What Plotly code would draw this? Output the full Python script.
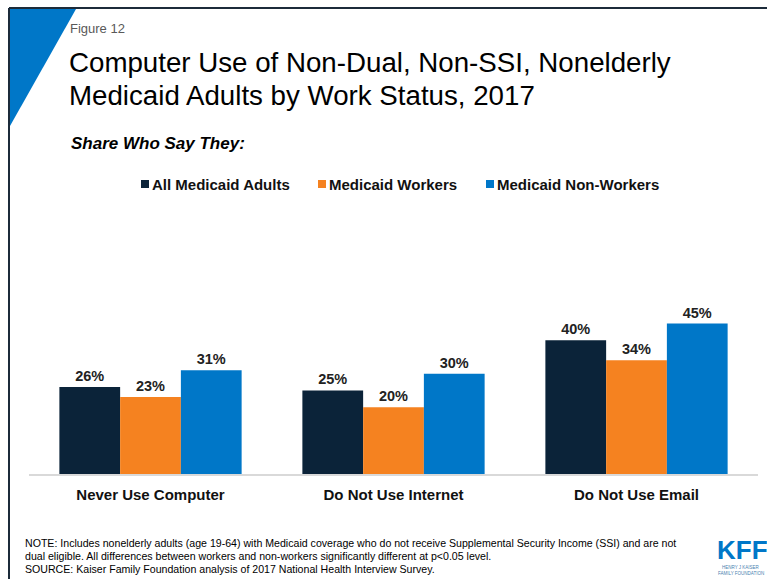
import plotly.graph_objects as go

# Survey data: share of nonelderly Medicaid adults by computer/internet use
categories = ["Never Use Computer", "Do Not Use Internet", "Do Not Use Email"]
all_adults = [26, 25, 40]
workers = [23, 20, 34]
non_workers = [31, 30, 45]

series_names = ["All Medicaid Adults", "Medicaid Workers", "Medicaid Non-Workers"]
series_colors = ["#0B2339", "#F58220", "#0077C8"]

W, H = 767, 579
ML, MR, MT, MB = 29, 9, 240, 105
FONT = "Arial, Liberation Sans, sans-serif"


def px_x(px):
    return (px - ML) / (W - ML - MR)


def px_y(py):
    return (H - MB - py) / (H - MT - MB)


fig = go.Figure()
for name, vals, color in zip(series_names, [all_adults, workers, non_workers], series_colors):
    fig.add_trace(go.Bar(
        x=categories,
        y=vals,
        name=name,
        marker=dict(color=color, line=dict(width=0)),
        text=[f"<b>{v}%</b>" for v in vals],
        textposition="outside",
        textfont=dict(family=FONT, size=14.5, color="#222222"),
        cliponaxis=False,
    ))

fig.update_layout(
    width=W, height=H,
    margin=dict(l=ML, r=MR, t=MT, b=MB),
    paper_bgcolor="white", plot_bgcolor="white",
    barmode="group", bargap=0.25, bargroupgap=0,
    font=dict(family=FONT, color="#000000"),
    showlegend=False,
    xaxis=dict(
        showline=True, linecolor="#D9D9D9", linewidth=1.5,
        ticks="", showgrid=False, ticklabelstandoff=6,
        tickfont=dict(family=FONT, size=15, color="#111111", weight="bold"),
        fixedrange=True,
    ),
    yaxis=dict(range=[0, 70], visible=False, showgrid=False, fixedrange=True),
)

# Frame lines and corner triangle
shapes = [
    dict(type="line", xref="paper", yref="paper",
         x0=px_x(9), x1=px_x(767), y0=px_y(8), y1=px_y(8),
         line=dict(color="#1C2B3A", width=2)),
    dict(type="line", xref="paper", yref="paper",
         x0=px_x(9), x1=px_x(9), y0=px_y(8), y1=px_y(579),
         line=dict(color="#1C2B3A", width=2)),
    dict(type="path", xref="paper", yref="paper",
         path=f"M {px_x(10)},{px_y(9)} L {px_x(76)},{px_y(9)} L {px_x(10)},{px_y(126)} Z",
         fillcolor="#0077C8", line=dict(width=0)),
]


def note(text, x, y, size, color="#000000", bold=False, italic=False, anchor="left", family=FONT):
    fig.add_annotation(
        text=text, xref="paper", yref="paper", x=px_x(x), y=px_y(y),
        xanchor=anchor, yanchor="middle", showarrow=False,
        font=dict(family=family, size=size, color=color,
                  weight="bold" if bold else "normal",
                  style="italic" if italic else "normal"),
    )


# Legend row: colour swatch followed by series name
legend_starts = [141, 318, 486]
for name, color, lx in zip(series_names, series_colors, legend_starts):
    shapes.append(dict(type="rect", xref="paper", yref="paper",
                       x0=px_x(lx), x1=px_x(lx + 8), y0=px_y(180), y1=px_y(188),
                       fillcolor=color, line=dict(width=0)))
    note(name, lx + 9, 184, 15, color="#111111", bold=True)

fig.update_layout(shapes=shapes)

note("Figure 12", 68, 28, 13, color="#595959")
note("Computer Use of Non-Dual, Non-SSI, Nonelderly", 67, 62, 27.7)
note("Medicaid Adults by Work Status, 2017", 67, 95, 27.7)
note("Share Who Say They:", 69, 143, 17, bold=True, italic=True)

note("NOTE: Includes nonelderly adults (age 19-64) with Medicaid coverage who do not receive Supplemental Security Income (SSI) and are not",
     23, 543, 10.6)
note("dual eligible. All differences between workers and non-workers significantly different at p<0.05 level.",
     23, 556, 10.6)
note("SOURCE: Kaiser Family Foundation analysis of 2017 National Health Interview Survey.",
     23, 569, 10.6)

# KFF logo
note("KFF", 742, 550, 26, color="#0077C8", bold=True, anchor="center")
note("HENRY J KAISER", 741, 567, 4.5, color="#4A7FB0", anchor="center")
note("FAMILY FOUNDATION", 741, 573, 4.5, color="#4A7FB0", anchor="center")

fig.write_html("out.html")
